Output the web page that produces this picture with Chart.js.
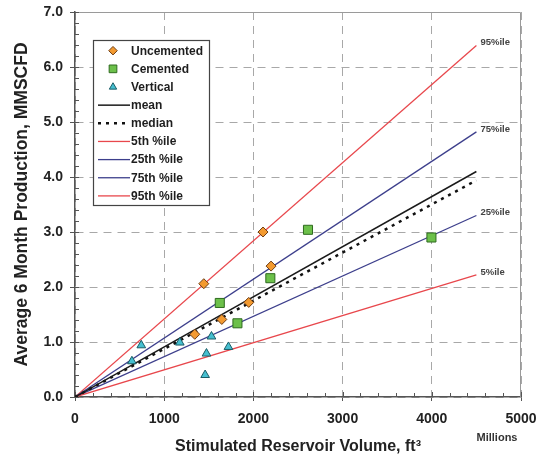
<!DOCTYPE html>
<html>
<head>
<meta charset="utf-8">
<script src="https://cdn.jsdelivr.net/npm/chart.js@4.4.1/dist/chart.umd.min.js"></script>
<style>
  html, body { margin: 0; padding: 0; background: #fff; }
</style>
</head>
<body>
<canvas id="chart" width="540" height="461"></canvas>
<script>
// point data (x in millions of ft3, y in MMSCFD)
const uncementedX = [1343, 1444, 1646, 1948, 2108, 2198];
const uncementedY = [1.14, 2.06, 1.41, 1.72, 3.00, 2.38];
const cementedX = [1623, 1821, 2190, 2612, 3996];
const cementedY = [1.71, 1.34, 2.16, 3.04, 2.90];
const verticalX = [638, 743, 1175, 1459, 1474, 1530, 1720];
const verticalY = [0.65, 0.94, 0.99, 0.40, 0.79, 1.10, 0.91];

// straight fits through the origin, ending at x = 4500
const lineNames = ["mean", "median", "5th %ile", "25th %ile", "75th %ile", "95th %ile"];
const lineTags = ["", "", "5%ile", "25%ile", "75%ile", "95%ile"];
const lineEndX = 4500;
const lineEndY = [4.10, 3.94, 2.22, 3.30, 4.82, 6.39];

const xMax = 5000, xStep = 1000, xMinor = 200;
const yMax = 7, yStep = 1, yMinor = 0.2;

const RED = "#e8474c", NAVY = "#3d3f8c";
const lineColors = ["#1a1a1a", "#111111", RED, NAVY, NAVY, RED];
const lineDash = [[], [3, 5], [], [], [], []];
const lineWidth = [1.5, 2.5, 1.3, 1.3, 1.3, 1.3];

const toPoints = (xs, ys) => xs.map((x, i) => ({ x, y: ys[i] }));

const datasets = [
  { label: "Uncemented", data: toPoints(uncementedX, uncementedY), pointStyle: "rectRot",
    pointRadius: 5, backgroundColor: "#f39a30", borderColor: "#6e3c12", borderWidth: 1, showLine: false },
  { label: "Cemented", data: toPoints(cementedX, cementedY), pointStyle: "rect",
    pointRadius: 6.4, backgroundColor: "#6cc04a", borderColor: "#2e6b1f", borderWidth: 1, showLine: false },
  { label: "Vertical", data: toPoints(verticalX, verticalY), pointStyle: "triangle",
    pointRadius: 5, backgroundColor: "#45bfd0", borderColor: "#1a5c66", borderWidth: 1, showLine: false },
];
lineNames.forEach((name, i) => {
  datasets.push({
    label: name,
    tag: lineTags[i],
    data: [{ x: 0, y: 0 }, { x: lineEndX, y: lineEndY[i] }],
    showLine: true, pointRadius: 0,
    borderColor: lineColors[i], borderWidth: lineWidth[i], borderDash: lineDash[i],
    backgroundColor: lineColors[i],
  });
});
// draw the lines under the markers
datasets.forEach((d, i) => { d.order = i < 3 ? 0 : 1; });

const decor = {
  id: "decor",
  beforeDatasetsDraw(chart) {
    const { ctx, chartArea: a, scales: { x, y } } = chart;
    ctx.save();
    // plot frame on top and right
    ctx.strokeStyle = "#9a9a9a";
    ctx.lineWidth = 1;
    ctx.beginPath();
    ctx.moveTo(a.left, a.top + 0.5);
    ctx.lineTo(a.right - 0.5, a.top + 0.5);
    ctx.lineTo(a.right - 0.5, a.bottom);
    ctx.stroke();
    // minor ticks pointing into the plot
    ctx.strokeStyle = "#555";
    ctx.beginPath();
    for (let v = 0; v <= xMax + 1e-6; v += xMinor) {
      const px = Math.round(x.getPixelForValue(v)) + 0.5;
      ctx.moveTo(px, a.bottom);
      ctx.lineTo(px, a.bottom - (v % xStep === 0 ? 5 : 4));
    }
    for (let v = 0; v <= yMax + 1e-6; v += yMinor) {
      const py = Math.round(y.getPixelForValue(v)) + 0.5;
      ctx.moveTo(a.left, py);
      ctx.lineTo(a.left + 4, py);
    }
    ctx.stroke();
    ctx.restore();
  },
  afterDraw(chart) {
    const { ctx, scales: { x, y } } = chart;
    ctx.save();
    // percentile tags at the line ends
    ctx.font = "bold 9.5px 'Liberation Sans', Arial, sans-serif";
    ctx.fillStyle = "#444";
    ctx.textAlign = "left";
    ctx.textBaseline = "middle";
    chart.data.datasets.forEach(ds => {
      if (!ds.tag) return;
      const end = ds.data[ds.data.length - 1];
      ctx.fillText(ds.tag, x.getPixelForValue(end.x) + 4, y.getPixelForValue(end.y) - 3);
    });

    // units note under the last tick
    ctx.font = "bold 11px 'Liberation Sans', Arial, sans-serif";
    ctx.fillStyle = "#333";
    ctx.textAlign = "center";
    ctx.fillText("Millions", 497, 438);

    // legend box
    const bx = 93.5, by = 40.5, bw = 116, bh = 165;
    ctx.fillStyle = "#fff";
    ctx.fillRect(bx, by, bw, bh);
    ctx.strokeStyle = "#444";
    ctx.lineWidth = 1.2;
    ctx.strokeRect(bx, by, bw, bh);
    ctx.font = "bold 12px 'Liberation Sans', Arial, sans-serif";
    ctx.textAlign = "left";
    chart.data.datasets.forEach((ds, i) => {
      const ry = 50.7 + i * 18.15;
      if (ds.showLine === false) {
        ctx.fillStyle = ds.backgroundColor;
        ctx.strokeStyle = ds.borderColor;
        ctx.lineWidth = 1;
        ctx.setLineDash([]);
        Chart.helpers.drawPoint(ctx, { pointStyle: ds.pointStyle, radius: ds.pointRadius * 0.85,
          rotation: 0, borderWidth: 1 }, 113, ry);
      } else {
        ctx.strokeStyle = ds.borderColor;
        ctx.lineWidth = ds.borderWidth;
        ctx.setLineDash(ds.borderDash);
        ctx.beginPath();
        ctx.moveTo(98, ry);
        ctx.lineTo(130, ry);
        ctx.stroke();
        ctx.setLineDash([]);
      }
      ctx.fillStyle = "#1e1e1e";
      ctx.fillText(ds.label, 131, ry + 0.5);
    });
    ctx.restore();
  }
};

const tickFont = { family: "'Liberation Sans', Arial, sans-serif", size: 14, weight: "bold" };
const xTitleFont = { family: "'Liberation Sans', Arial, sans-serif", size: 16, weight: "bold" };
const yTitleFont = { family: "'Liberation Sans', Arial, sans-serif", size: 17.5, weight: "bold" };

new Chart(document.getElementById("chart"), {
  type: "scatter",
  data: { datasets },
  options: {
    responsive: false,
    animation: false,
    layout: { padding: { left: 0, right: 19, top: 12, bottom: 0 } },
    plugins: { legend: { display: false }, tooltip: { enabled: false } },
    scales: {
      x: {
        type: "linear", min: 0, max: xMax,
        afterFit: s => { s.height = 64; s.paddingLeft = 0; s.paddingRight = 0; },
        ticks: { stepSize: xStep, color: "#222", font: tickFont, padding: 10,
          callback: v => String(v) },
        grid: { color: "#a8a8a8", lineWidth: 1, tickLength: 4, tickColor: "#555" },
        border: { color: "#555", width: 1.5, dash: [8, 6] },
        title: { display: true, text: "Stimulated Reservoir Volume, ft³", color: "#222",
          font: xTitleFont, padding: { top: 0, bottom: 4.4 } },
      },
      y: {
        type: "linear", min: 0, max: yMax,
        afterFit: s => { s.width = 75; s.paddingTop = 0; s.paddingBottom = 0; },
        ticks: { stepSize: yStep, color: "#222", font: tickFont, padding: 7,
          callback: v => v.toFixed(1) },
        grid: { color: "#a8a8a8", lineWidth: 1, tickLength: 5, tickColor: "#555" },
        border: { color: "#555", width: 1.5, dash: [8, 6] },
        title: { display: true, text: "Average 6 Month Production, MMSCFD", color: "#222",
          font: yTitleFont, padding: { top: 11.5, bottom: 0 } },
      },
    },
  },
  plugins: [decor],
});
</script>
</body>
</html>
